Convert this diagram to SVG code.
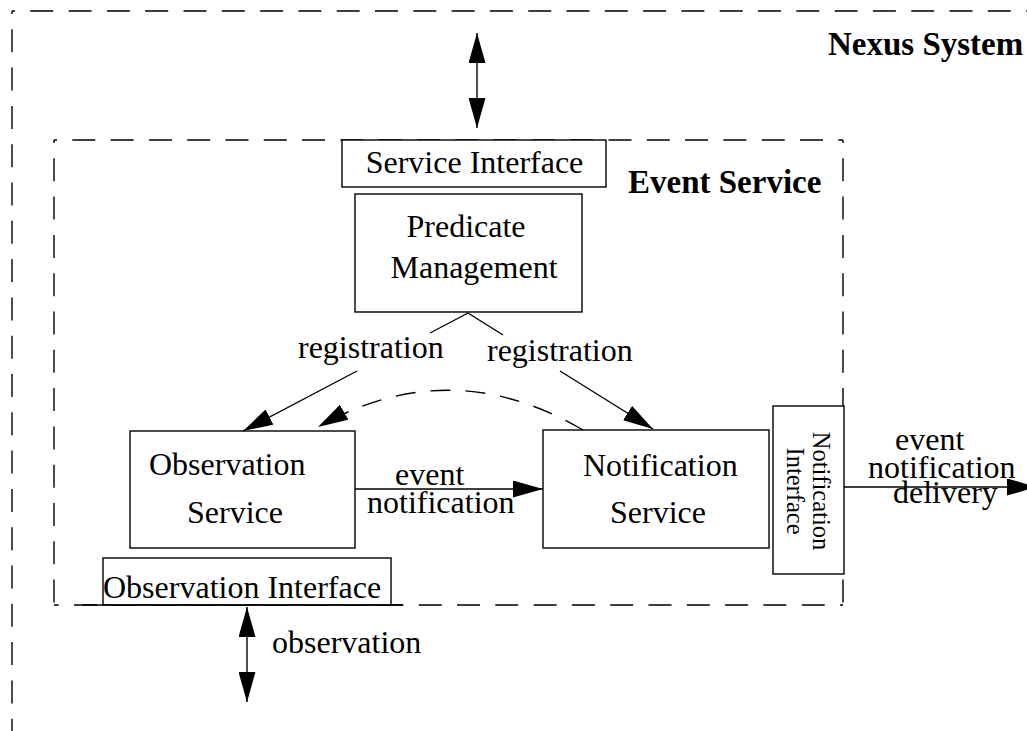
<svg xmlns="http://www.w3.org/2000/svg" width="1027" height="731" viewBox="0 0 1027 731">
<defs>
<marker id="arr" viewBox="0 0 30 17" refX="30" refY="8.5" markerWidth="30" markerHeight="17" markerUnits="userSpaceOnUse" orient="auto-start-reverse">
<path d="M0,0 L30,8.5 L0,17 z" fill="#000"/>
</marker>
<style>
.dash{fill:none;stroke:#000;stroke-width:1.4;stroke-dasharray:23 15.3;stroke-dashoffset:20}
.box{fill:#fff;stroke:#000;stroke-width:1.4}
.ln{fill:none;stroke:#000;stroke-width:1.4}
.t{font-family:"Liberation Serif","Times New Roman",serif;font-size:32px;fill:#000}
.tb{font-family:"Liberation Serif","Times New Roman",serif;font-size:33px;font-weight:bold;fill:#000}
.ts{font-family:"Liberation Serif","Times New Roman",serif;font-size:24.5px;fill:#000}
</style>
</defs>
<rect x="0" y="0" width="1027" height="731" fill="#fff"/>
<g id="nexus-system">
<path class="dash" d="M12,11 H1040"/>
<path class="dash" d="M12,11 V740"/>
<text class="tb" x="828" y="55">Nexus System</text>
</g>
<g id="event-service">
<path class="dash" d="M54,140 H843"/>
<path class="dash" d="M843,140 V605"/>
<path class="dash" d="M54,140 V605"/>
<path class="dash" d="M843,605 H54"/>
<text class="tb" x="628" y="193">Event Service</text>
</g>
<g id="service-interface">
<rect class="box" x="342" y="140" width="264" height="47"/>
<text class="t" x="474.5" y="173" text-anchor="middle">Service Interface</text>
</g>
<g id="predicate-management">
<rect class="box" x="355" y="194" width="227" height="118"/>
<text class="t"><tspan x="466" y="237" text-anchor="middle">Predicate</tspan><tspan x="474" y="278" text-anchor="middle">Management</tspan></text>
</g>
<g id="observation-service">
<rect class="box" x="130" y="431" width="225" height="117"/>
<text class="t"><tspan x="149" y="475">Observation</tspan><tspan x="187" y="523">Service</tspan></text>
</g>
<g id="notification-service">
<rect class="box" x="543" y="430" width="226" height="118"/>
<text class="t"><tspan x="583" y="476">Notification</tspan><tspan x="610" y="523">Service</tspan></text>
</g>
<g id="notification-interface">
<rect class="box" x="773" y="406" width="71" height="168"/>
<text class="ts" transform="translate(800,491) rotate(90)" text-anchor="middle"><tspan x="0" y="-13">Notification</tspan><tspan x="0" y="13">Interface</tspan></text>
</g>
<g id="observation-interface">
<rect class="box" x="103" y="558" width="288" height="47"/>
<path class="ln" d="M82,605 H403"/>
<text class="t" x="103" y="598">Observation Interface</text>
</g>
<g id="connectors">
<path class="ln" d="M477,33 V128" marker-start="url(#arr)" marker-end="url(#arr)"/>
<path class="ln" d="M247,607 V702" marker-start="url(#arr)" marker-end="url(#arr)"/>
<text class="t" x="272" y="653">observation</text>
<path class="ln" d="M468,313 L430,333"/>
<path class="ln" d="M357,371 L243,431" marker-end="url(#arr)"/>
<text class="t" x="298" y="358">registration</text>
<path class="ln" d="M468,313 L503,335"/>
<path class="ln" d="M560,371 L653,429" marker-end="url(#arr)"/>
<text class="t" x="487" y="361">registration</text>
<path class="ln" d="M583,430 Q450,352 318,427" stroke-dasharray="20 15" marker-end="url(#arr)"/>
<path class="ln" d="M355,489 H543" marker-end="url(#arr)"/>
<text class="t"><tspan x="395" y="485">event</tspan><tspan x="367" y="513">notification</tspan></text>
<path class="ln" d="M844,487 H1037" marker-end="url(#arr)"/>
<text class="t"><tspan x="895" y="450">event</tspan><tspan x="868" y="478">notification</tspan><tspan x="893" y="503">delivery</tspan></text>
</g>
</svg>
